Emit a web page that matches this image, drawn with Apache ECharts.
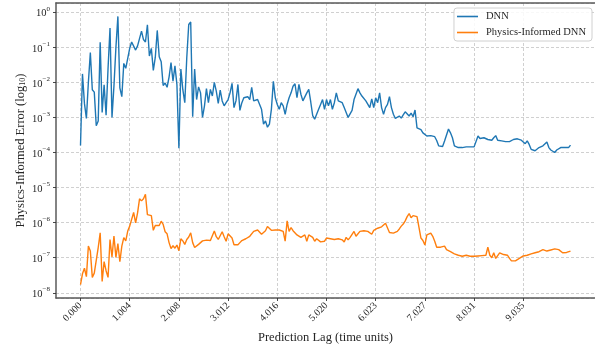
<!DOCTYPE html>
<html>
<head>
<meta charset="utf-8">
<script src="https://cdn.jsdelivr.net/npm/echarts@6/dist/echarts.min.js"></script>
<style>
  html, body { margin: 0; padding: 0; background: #fff; }
  #chart { width: 595px; height: 349px; }
</style>
</head>
<body>
<div id="chart"></div>
<script>
// Prediction-lag grid: one sample every lagStep time units
const lagStep = 0.0401562;
const sampleCount = 250;

// Tick positions (sample index) and their printed labels
const tickSampleIndex = [0, 25, 50, 75, 100, 125, 150, 175, 200, 225];
const tickLabels = ['0.000', '1.004', '2.008', '3.012', '4.016', '5.020', '6.023', '7.027', '8.031', '9.035'];

// Error per lag, stored as log10 of the error
const dnnLog10Error = [
  -3.80, -1.76, -2.60, -3.03, -2.00, -1.15, -2.21, -2.28, -3.24, -3.10,
  -0.86, -2.86, -2.07, -2.94, -1.60, -0.45, -3.00, -2.10, -1.00, -0.12,
  -2.16, -2.41, -1.46, -1.60, -1.62, -1.03, -0.85, -0.80, -1.08, -0.96,
  -0.99, -0.54, -0.78, -0.85, -0.36, -1.25, -1.03, -1.66, -1.29, -0.52,
  -1.27, -1.41, -2.09, -2.02, -2.14, -1.85, -1.44, -1.97, -1.53, -2.07,
  -3.88, -1.62, -2.21, -2.58, -1.30, -0.35, -0.28, -2.98, -1.62, -2.49,
  -2.13, -2.30, -3.00, -2.67, -2.18, -2.58, -2.20, -2.39, -2.00, -2.25,
  -2.60, -2.22, -2.53, -2.67, -2.58, -2.49, -2.30, -2.03, -2.72, -2.53,
  -2.06, -2.80, -2.58, -2.44, -2.39, -2.41, -2.49, -2.14, -2.53, -2.53,
  -2.49, -2.53, -2.77, -3.19, -3.10, -3.28, -3.19, -2.77, -1.97, -2.44,
  -2.63, -2.77, -2.58, -2.67, -2.91, -2.63, -2.44, -2.30, -2.11, -2.04,
  -2.44, -2.06, -2.34, -2.53, -2.58, -2.30, -2.20, -2.56, -2.95, -3.05,
  -3.00, -2.77, -2.63, -2.49, -2.77, -2.49, -2.67, -2.49, -2.77, -2.58,
  -2.30, -2.53, -2.58, -2.58, -2.72, -2.77, -3.00, -3.05, -2.80, -2.49,
  -2.47, -2.18, -2.30, -2.39, -2.44, -2.53, -2.49, -2.72, -2.47, -2.72,
  -2.44, -2.58, -2.30, -2.72, -2.91, -2.72, -2.63, -2.41, -2.72, -2.91,
  -3.03, -3.00, -2.96, -3.02, -2.93, -2.84, -2.81, -2.96, -2.88, -2.98,
  -2.79, -3.30, -3.30, -3.35, -3.44, -3.47, -3.53, -3.52, -3.52, -3.49,
  -3.55, -3.66, -3.81, -3.84, -3.83, -3.67, -3.62, -3.33, -3.44, -3.58,
  -3.81, -3.86, -3.86, -3.86, -3.86, -3.81, -3.84, -3.89, -3.84, -3.81,
  -3.84, -3.86, -3.53, -3.60, -3.58, -3.58, -3.61, -3.63, -3.67, -3.65,
  -3.58, -3.52, -3.65, -3.70, -3.67, -3.67, -3.69, -3.67, -3.69, -3.67,
  -3.63, -3.60, -3.61, -3.63, -3.65, -3.67, -3.75, -3.67, -3.77, -3.91,
  -3.95, -3.95, -3.91, -3.86, -3.81, -3.81, -3.81, -3.70, -3.86, -3.93,
  -3.98, -4.00, -3.93, -3.95, -3.86, -3.91, -3.86, -3.91, -3.86, -3.79
];

const pinnLog10Error = [
  -7.77, -7.46, -7.30, -7.54, -6.67, -6.81, -7.56, -7.44, -7.44, -6.71,
  -6.29, -7.68, -7.11, -7.37, -7.56, -6.48, -6.98, -6.38, -6.99, -6.60,
  -7.11, -6.67, -6.43, -6.52, -6.24, -6.10, -6.15, -5.71, -6.01, -5.72,
  -5.32, -5.38, -5.32, -5.19, -5.77, -5.79, -5.80, -6.22, -6.08, -6.08,
  -6.08, -5.96, -6.05, -6.26, -6.32, -6.57, -6.74, -6.66, -6.73, -6.64,
  -6.80, -6.46, -6.52, -6.62, -6.48, -6.41, -6.29, -6.57, -6.71, -6.66,
  -6.62, -6.57, -6.52, -6.57, -6.50, -6.48, -6.51, -6.48, -6.24, -6.40,
  -6.48, -6.49, -6.26, -6.40, -6.53, -6.32, -6.30, -6.44, -6.63, -6.67,
  -6.63, -6.57, -6.51, -6.55, -6.46, -6.51, -6.39, -6.35, -6.25, -6.28,
  -6.21, -6.16, -6.33, -6.35, -6.23, -6.11, -6.16, -6.22, -6.23, -6.21,
  -6.16, -6.21, -6.16, -6.25, -6.53, -5.95, -6.25, -6.14, -6.23, -6.27,
  -6.35, -6.33, -6.42, -6.46, -6.35, -6.53, -6.35, -6.30, -6.42, -6.53,
  -6.46, -6.51, -6.55, -6.58, -6.53, -6.44, -6.42, -6.46, -6.50, -6.48,
  -6.51, -6.46, -6.42, -6.49, -6.55, -6.42, -6.49, -6.42, -6.41, -6.25,
  -6.39, -6.36, -6.25, -6.30, -6.23, -6.22, -6.25, -6.30, -6.33, -6.22,
  -6.21, -6.16, -6.14, -6.12, -6.11, -6.02, -6.07, -6.28, -6.33, -6.30,
  -6.30, -6.25, -6.18, -6.10, -6.04, -5.95, -5.83, -5.74, -5.86, -5.80,
  -5.76, -5.83, -5.88, -6.44, -6.51, -6.64, -6.35, -6.33, -6.30, -6.39,
  -6.53, -6.70, -6.70, -6.70, -6.70, -6.67, -6.77, -6.79, -6.83, -6.86,
  -6.89, -6.91, -6.93, -6.95, -6.96, -6.94, -6.93, -6.94, -6.96, -6.94,
  -6.96, -6.94, -6.95, -6.95, -6.94, -6.93, -6.93, -6.70, -6.93, -7.00,
  -6.86, -7.02, -6.98, -6.86, -6.91, -6.91, -6.89, -6.93, -7.02, -7.09,
  -7.11, -7.09, -7.07, -7.02, -6.98, -6.95, -6.96, -6.93, -6.91, -6.89,
  -6.91, -6.86, -6.81, -6.83, -6.79, -6.77, -6.79, -6.81, -6.79, -6.78,
  -6.77, -6.75, -6.72, -6.77, -6.81, -6.86, -6.86, -6.85, -6.83, -6.81
];

const seriesNames = ['DNN', 'Physics-Informed DNN'];
const seriesColors = ['#1f77b4', '#ff7f0e'];

const FONT = 'Liberation Serif';
const INK = '#262626';
const SPINE = '#5a5a5a';

const lagAt = (i) => i * lagStep;
const lastLag = lagAt(sampleCount - 1);
const tickValues = tickSampleIndex.map(lagAt);

const toPoints = (logs) => logs.map((e, i) => [lagAt(i), Math.pow(10, e)]);

const chart = echarts.init(document.getElementById('chart'), null, { renderer: 'canvas' });

const gridLine = { show: true, lineStyle: { color: '#c4c4c4', width: 0.8, type: [3, 2] } };

chart.setOption({
  animation: false,
  backgroundColor: '#ffffff',
  textStyle: { fontFamily: FONT, color: INK },
  grid: { left: 56, right: 0, top: 3, bottom: 48, containLabel: false },
  legend: {
    data: seriesNames,
    orient: 'vertical',
    right: 3,
    top: 8,
    icon: 'rect',
    itemWidth: 21,
    itemHeight: 1.6,
    itemGap: 3,
    padding: [2, 6, 2, 3],
    borderColor: '#d0d0d0',
    borderWidth: 1,
    borderRadius: 3,
    backgroundColor: 'rgba(255,255,255,0.85)',
    textStyle: { fontFamily: FONT, fontSize: 10.5, color: INK, lineHeight: 13, padding: [0, 0, 0, 3] }
  },
  xAxis: [
    {
      type: 'value',
      min: -0.05 * lastLag,
      max: 1.05 * lastLag,
      name: 'Prediction Lag (time units)',
      nameLocation: 'middle',
      nameGap: 33,
      nameMoveOverlap: false,
      nameTextStyle: { fontFamily: FONT, fontSize: 12.5, color: INK },
      axisLine: { show: true, onZero: false, lineStyle: { color: SPINE, width: 1.5 } },
      axisTick: { show: true, length: 3, customValues: tickValues, lineStyle: { color: '#333', width: 0.9 } },
      axisLabel: {
        customValues: tickValues,
        rotate: 45,
        margin: 6,
        fontFamily: FONT,
        fontSize: 10,
        color: INK,
        formatter: (v) => {
          const k = tickValues.findIndex((t) => Math.abs(t - v) < 1e-6);
          return k >= 0 ? tickLabels[k] : '';
        }
      },
      splitLine: gridLine
    },
    {
      type: 'value',
      position: 'top',
      min: -0.05 * lastLag,
      max: 1.05 * lastLag,
      axisLine: { show: true, onZero: false, lineStyle: { color: SPINE, width: 1.5 } },
      axisTick: { show: false },
      axisLabel: { show: false },
      splitLine: { show: false }
    }
  ],
  yAxis: {
    type: 'log',
    logBase: 10,
    min: Math.pow(10, -8.149),
    max: Math.pow(10, 0.262),
    splitNumber: 8,
    name: 'Physics-Informed Error (log{sub|10})',
    nameLocation: 'middle',
    nameRotate: 90,
    nameGap: 29,
    nameMoveOverlap: false,
    nameTextStyle: {
      fontFamily: FONT, fontSize: 12.5, color: INK,
      rich: { sub: { fontFamily: FONT, fontSize: 8, color: INK, verticalAlign: 'bottom', padding: [4, 0, 0, 0] } }
    },
    axisLine: { show: true, onZero: false, lineStyle: { color: SPINE, width: 1.5 } },
    axisTick: { show: true, length: 3, lineStyle: { color: '#333', width: 0.9 } },
    minorTick: { show: false },
    axisLabel: {
      margin: 6,
      showMinLabel: false,
      showMaxLabel: false,
      fontFamily: FONT,
      color: INK,
      formatter: (v) => {
        const e = Math.round(Math.log10(v));
        const s = e < 0 ? '\u2212' + (-e) : String(e);
        return '{b|10}{s|' + s + '}';
      },
      rich: {
        b: { fontFamily: FONT, fontSize: 10.5, color: INK, lineHeight: 14, verticalAlign: 'bottom' },
        s: { fontFamily: FONT, fontSize: 7, color: INK, lineHeight: 14, verticalAlign: 'top' }
      }
    },
    splitLine: gridLine
  },
  series: [
    {
      name: seriesNames[0],
      type: 'line',
      data: toPoints(dnnLog10Error),
      showSymbol: false,
      color: seriesColors[0],
      lineStyle: { color: seriesColors[0], width: 1.4 },
      z: 3
    },
    {
      name: seriesNames[1],
      type: 'line',
      data: toPoints(pinnLog10Error),
      showSymbol: false,
      color: seriesColors[1],
      lineStyle: { color: seriesColors[1], width: 1.4 },
      z: 4
    }
  ]
});
</script>
</body>
</html>
